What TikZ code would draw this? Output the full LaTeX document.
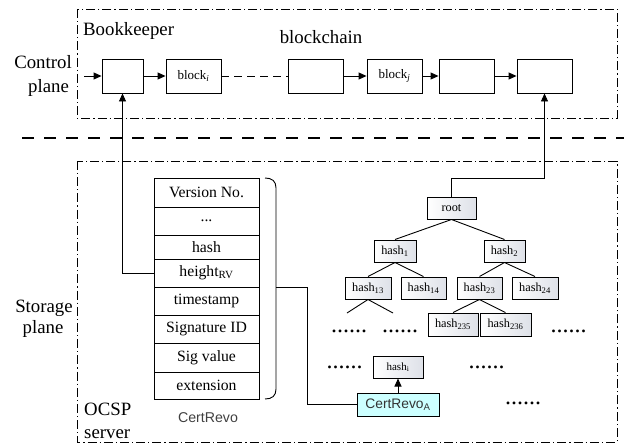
\documentclass[tikz,border=0pt]{standalone}
\usepackage{fontspec}
\setmainfont{Liberation Serif}
\setsansfont{Liberation Sans}
\usetikzlibrary{arrows.meta}
\definecolor{certfill}{RGB}{204,255,255}
\definecolor{shadeend}{RGB}{222,225,232}
\begin{document}
\begin{tikzpicture}[x=1pt,y=-1pt,
  frame/.style={draw, line width=0.9pt, dash pattern=on 9pt off 3pt on 1.2pt off 3pt},
  blk/.style={draw, line width=0.9pt, fill=white, minimum width=55pt, minimum height=34pt,
    inner sep=0pt, font=\fontsize{13}{15}\selectfont},
  row/.style={draw, line width=0.9pt, minimum width=105pt, inner sep=0pt,
    font=\fontsize{15.7}{18}\selectfont},
  hnode/.style={draw, line width=1pt, left color=white, right color=shadeend,
    minimum height=22pt, inner sep=0pt, font=\fontsize{12.3}{14}\selectfont},
  lbl/.style={inner sep=0pt, font=\fontsize{18.8}{22}\selectfont},
  dotrow/.style={inner sep=0pt, anchor=base, font=\fontsize{24}{24}\selectfont},
  arr/.style={-{Triangle[length=8pt,width=7pt]}, line width=0.9pt},
  link/.style={line width=0.9pt}
]
\useasboundingbox (0,0) rectangle (624,445);

% planes
\draw[frame] (77,9) rectangle (617,118);
\draw[frame] (77,161) rectangle (617,442);
\draw[line width=2pt, dash pattern=on 12pt off 10pt] (22,138) -- (624,138);

% plane labels
\node[lbl, anchor=base] (ctl1) at (43,68) {Control};
\node[lbl, anchor=base] (ctl2) at (48.5,92) {plane};
\node[lbl, anchor=base] (sto1) at (44,312) {Storage};
\node[lbl, anchor=base] (sto2) at (43,333) {plane};
\node[lbl, anchor=base west] (bk) at (83,35) {Bookkeeper};
\node[lbl, anchor=base] (bc) at (321,43) {blockchain};
\node[lbl, anchor=base west] (ocsp1) at (84,415) {OCSP};
\node[lbl, anchor=base west] (ocsp2) at (84,438) {server};

% blockchain
\coordinate (in) at (84,76);
\node[blk, minimum width=41pt] (b1) at (122.5,76) {};
\node[blk] (b2) at (193.5,76) {block\textsubscript{\itshape i}};
\node[blk] (b3) at (315.5,76) {};
\node[blk] (b4) at (394.5,76) {block\textsubscript{\itshape j}};
\node[blk] (b5) at (466.5,76) {};
\node[blk] (b6) at (544.5,76) {};
\draw[arr] (in) -- (b1.west);
\draw[arr] (b1.east) -- (b2.west);
\draw[link, dash pattern=on 8pt off 5pt] (b2.east) -- (b3.west);
\draw[arr] (b3.east) -- (b4.west);
\draw[arr] (b4.east) -- (b5.west);
\draw[arr] (b5.east) -- (b6.west);

% revocation record fields
\node[row, minimum height=29pt] (r1) at (206.5,192.5) {Version No.};
\node[row, minimum height=28pt] (r2) at (206.5,221) {...};
\node[row, minimum height=24pt] (r3) at (206.5,247) {hash};
\node[row, minimum height=28pt] (r4) at (206.5,273) {height\textsubscript{RV}};
\node[row, minimum height=28pt] (r5) at (206.5,301) {timestamp};
\node[row, minimum height=28pt] (r6) at (206.5,329) {Signature ID};
\node[row, minimum height=29pt] (r7) at (206.5,357.5) {Sig value};
\node[row, minimum height=27pt] (r8) at (206.5,385.5) {extension};
\node[inner sep=0pt, anchor=base, text=black!75,
  font=\sffamily\fontsize{14.2}{16}\selectfont] (crname) at (208,422) {CertRevo};

% closing bracket of the record
\draw[link] (265,178) .. controls (272,178) and (276,181) .. (276,188)
  -- (276,389) .. controls (276,396) and (272,399) .. (265,399);
\coordinate (brace) at (276,287);

\draw[arr] (r4.west) -| (b1.south);

% Merkle tree
\node[hnode, minimum width=49pt] (root) at (451.5,208) {root};
\node[hnode, minimum width=42pt] (h1) at (395,251) {hash\textsubscript{1}};
\node[hnode, minimum width=41pt] (h2) at (504.5,251) {hash\textsubscript{2}};
\node[hnode, minimum width=46pt] (h13) at (368,288) {hash\textsubscript{13}};
\node[hnode, minimum width=45pt] (h14) at (423.5,288) {hash\textsubscript{14}};
\node[hnode, minimum width=45pt] (h23) at (479.5,288) {hash\textsubscript{23}};
\node[hnode, minimum width=46pt] (h24) at (535,288) {hash\textsubscript{24}};
\node[hnode, minimum width=50pt, minimum height=23pt] (h235) at (453,324.5) {hash\textsubscript{235}};
\node[hnode, minimum width=51pt, minimum height=23pt] (h236) at (505.5,324.5) {hash\textsubscript{236}};
\node[hnode, minimum width=50pt, font=\fontsize{11}{13}\selectfont] (hi) at (398,367) {hash\textsubscript{i}};
\node[draw, line width=1pt, fill=certfill, minimum width=82pt, minimum height=23pt,
  inner sep=0pt, text=black!80, font=\sffamily\fontsize{13.8}{16}\selectfont]
  (cra) at (398,404.5) {CertRevo\textsubscript{A}};

\coordinate (l13a) at (347,313);
\coordinate (l13b) at (393,313);

\draw[link] (root.south) -- (h1.north);
\draw[link] (root.south) -- (h2.north);
\draw[link] (h1.south) -- (h13.north);
\draw[link] (h1.south) -- (h14.north);
\draw[link] (h2.south) -- (h23.north);
\draw[link] (h2.south) -- (h24.north);
\draw[link] (h13.south) -- (l13a);
\draw[link] (h13.south) -- (l13b);
\draw[link] (h23.south) -- (h235.north);
\draw[link] (h23.south) -- (h236.north);

\draw[arr] (root.north) -- ++(0,-18) -| (b6.south);
\draw[arr] (cra.north) -- (hi.south);
\draw[link] (brace) -- ++(31,0) |- (cra.west);

% elided parts of the tree
\node[dotrow] (d1) at (349,332.2) {......};
\node[dotrow] (d2) at (400,332.2) {......};
\node[dotrow] (d3) at (568.5,332.2) {......};
\node[dotrow] (d4) at (344.5,368.2) {......};
\node[dotrow] (d5) at (486.5,368.2) {......};
\node[dotrow] (d6) at (523,404.2) {......};
\end{tikzpicture}
\end{document}
